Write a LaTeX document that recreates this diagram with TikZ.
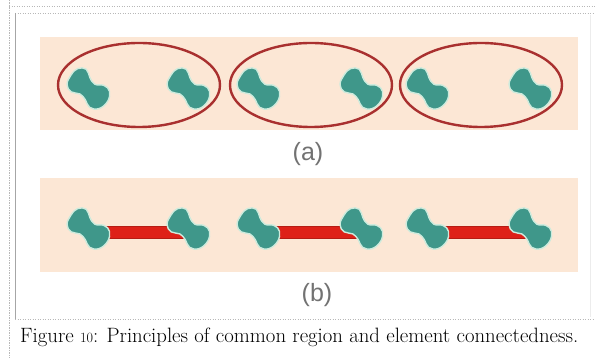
\documentclass[tikz,border=0pt]{standalone}
\usepackage{fontspec}
\usepackage{graphicx}
\newfontfamily\labelfont{Liberation Sans}
\definecolor{band}{HTML}{FCE7D5}
\definecolor{ringred}{HTML}{A9302F}
\definecolor{teal}{HTML}{3F978A}
\definecolor{blobedge}{HTML}{CDEBDD}
\definecolor{barred}{HTML}{DE2118}
\definecolor{bardark}{HTML}{B51C14}
\definecolor{labelgray}{HTML}{727272}
\definecolor{framegray}{HTML}{B8B8B8}
\newcommand{\osnum}[1]{\scalebox{0.68}{#1}}
\tikzset{
  bandbox/.style={fill=band, draw=none},
  ring/.style={draw=ringred, line width=2.4pt},
  barline/.style={draw=barred, line width=11pt},
  baredge/.style={draw=bardark, line width=13pt},
  dotline/.style={draw=framegray, line width=0.8pt, dash pattern=on 1.2pt off 1.3pt},
  sublabel/.style={text=labelgray, font=\labelfont\fontsize{25}{25}\selectfont, inner sep=0pt},
  blob/.pic={
    \draw[fill=teal, draw=blobedge, line width=1.4pt]
      plot[smooth cycle, tension=0.7] coordinates {
        (-22,0) (-21,-9) (-14,-14) (-6,-10) (2,-8) (10,-13) (18,-12)
        (23,-3) (21,8) (13,13) (5,10) (-3,9) (-11,13) (-19,10)};
  }
}
\begin{document}
\begin{tikzpicture}[x=1pt,y=-1pt]
\useasboundingbox (0,0) rectangle (595,358);
\fill[white] (0,0) rectangle (595,358);
% frame
\draw[dotline] (9,0) -- (9,358);
\draw[dotline] (9,6) -- (595,6);
\draw[dotline] (15,13) -- (595,13);
\draw[dotline] (15,319) -- (595,319);
\draw[draw=gray!70, line width=1.2pt] (15.5,13) -- (15.5,319);
\draw[draw=gray!15, line width=0.8pt] (590,15) -- (590,317);
% bands
\fill[bandbox] (40,37) rectangle (578,130);
\fill[bandbox] (40,178) rectangle (578,272);
% rings (a)
\draw[ring] (139,85) ellipse [x radius=81, y radius=42];
\draw[ring] (311,85) ellipse [x radius=81, y radius=42];
\draw[ring] (481,85) ellipse [x radius=81, y radius=42];
% top blobs
\foreach \i/\x in {1/88,2/188,3/258,4/361,5/427,6/530}{
  \coordinate (t\i) at (\x,89);
  \pic[rotate=-40] at (t\i) {blob};
}
% bottom blobs coordinates
\foreach \i/\x in {1/88,2/188,3/258,4/361,5/427,6/530}{
  \coordinate (b\i) at (\x,229);
}
% connectors
\foreach \p/\q in {b1/b2,b3/b4,b5/b6}{
  \draw[baredge] ([yshift=-4pt]\p) -- ([yshift=-4pt]\q);
  \draw[barline] ([yshift=-4pt]\p) -- ([yshift=-4pt]\q);
}
\foreach \i in {1,...,6}{
  \pic[rotate=-40] at (b\i) {blob};
}
% labels
\node[sublabel] (la) at (308,154) {(a)};
\node[sublabel] (lb) at (317,295) {(b)};
% caption
\node[anchor=base west, inner sep=0pt] (cap) at (20,343)
  {\resizebox{558pt}{!}{\fontsize{18}{20}\selectfont Figure \osnum{1}\osnum{0}: Principles of common region and element connectedness.}};
\end{tikzpicture}
\end{document}
